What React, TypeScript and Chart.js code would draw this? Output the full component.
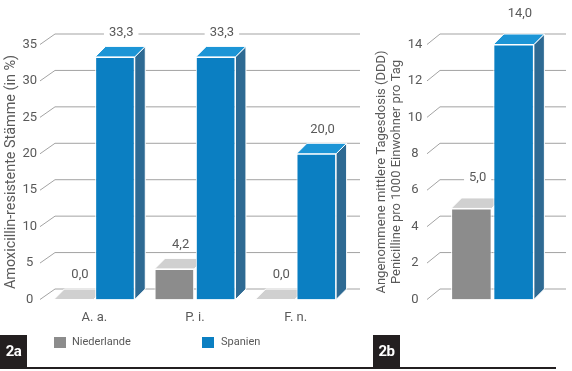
import React, { useEffect, useRef } from "react";
import { Chart, registerables } from "chart.js";

Chart.register(...registerables);

// ---- data ----
const seriesNames = ["Niederlande", "Spanien"];

const categoriesA = ["A. a.", "P. i.", "F. n."];
const niederlandeA = [0.0, 4.2, 0.0];
const spanienA = [33.3, 33.3, 20.0];
const yMaxA = 35;
const yStepA = 5;
const titleA = "Amoxicillin-resistente Stämme (in %)";

const categoriesB = [""];
const niederlandeB = [5.0];
const spanienB = [14.0];
const yMaxB = 14;
const yStepB = 2;
const titleB = [
  "Angenommene mittlere Tagesdosis (DDD)",
  "Penicilline pro 1000 Einwohner pro Tag",
];

const panelTags = ["2a", "2b"];

// ---- styles ----
const FONT = "Roboto, 'DejaVu Sans', sans-serif";
const TEXT = "#595959";
const GRID = "#a3a3a3";
const FRONT = ["#8c8c8c", "#0b7fc2"];
const TOP = ["#d0d0d0", "#1c95d6"];
const SIDE = ["#7a7a7a", "#2e6a93"];

const fmt = (v: number) => v.toFixed(1).replace(".", ",");

const bar3d = {
  id: "bar3d",
  beforeDatasetsDraw(chart: any, _args: any, opts: any) {
    const { ctx } = chart;
    const d = opts.depth;
    const ys = chart.scales.y;
    ctx.save();
    ctx.strokeStyle = GRID;
    ctx.lineWidth = 1;
    ys.ticks.forEach((t: any) => {
      const y = ys.getPixelForValue(t.value);
      ctx.beginPath();
      ctx.moveTo(opts.stubX, y);
      ctx.lineTo(opts.gridX, y - d);
      ctx.lineTo(opts.gridEnd, y - d);
      ctx.stroke();
    });
    chart.data.datasets.forEach((_ds: any, di: number) => {
      const meta = chart.getDatasetMeta(di);
      meta.data.forEach((el: any) => {
        const { x, y, base, width } = el.getProps(["x", "y", "base", "width"], true);
        const l = x - width / 2;
        const r = x + width / 2;
        ctx.strokeStyle = "#ffffff";
        ctx.lineWidth = 1;
        if (di === chart.data.datasets.length - 1 && base - y > 0.5) {
          ctx.fillStyle = SIDE[di];
          ctx.beginPath();
          ctx.moveTo(r, y);
          ctx.lineTo(r + d, y - d);
          ctx.lineTo(r + d, base - d);
          ctx.lineTo(r, base);
          ctx.closePath();
          ctx.fill();
          ctx.stroke();
        }
        ctx.fillStyle = TOP[di];
        ctx.beginPath();
        ctx.moveTo(l, y);
        ctx.lineTo(l + d, y - d);
        ctx.lineTo(r + d, y - d);
        ctx.lineTo(r, y);
        ctx.closePath();
        ctx.fill();
        ctx.stroke();
      });
    });
    ctx.restore();
  },
  afterDatasetsDraw(chart: any, _args: any, opts: any) {
    const { ctx } = chart;
    const d = opts.depth;
    ctx.save();
    ctx.font = `13px ${FONT}`;
    ctx.textAlign = "center";
    ctx.textBaseline = "middle";
    chart.data.datasets.forEach((ds: any, di: number) => {
      const meta = chart.getDatasetMeta(di);
      meta.data.forEach((el: any, i: number) => {
        const { x, y } = el.getProps(["x", "y"], true);
        const txt = fmt(ds.data[i]);
        const cx = x + d / 2 + 1;
        const cy = y - d - opts.labelOffset;
        const w = ctx.measureText(txt).width;
        ctx.fillStyle = "#ffffff";
        ctx.fillRect(cx - w / 2 - 5, cy - 6, w + 10, 12);
        ctx.fillStyle = TEXT;
        ctx.fillText(txt, cx, cy);
      });
    });
    ctx.restore();
  },
};

function makeConfig(
  labels: string[],
  a: number[],
  b: number[],
  yMax: number,
  yStep: number,
  title: string | string[],
  p: any
): any {
  return {
    type: "bar",
    data: {
      labels,
      datasets: [
        {
          label: seriesNames[0],
          data: a,
          backgroundColor: FRONT[0],
          borderColor: "#ffffff",
          borderWidth: 1,
        },
        {
          label: seriesNames[1],
          data: b,
          backgroundColor: FRONT[1],
          borderColor: "#ffffff",
          borderWidth: 1,
        },
      ],
    },
    options: {
      responsive: false,
      animation: false,
      events: [],
      layout: { padding: { top: 44.5, bottom: 31.5, left: 0, right: p.padRight } },
      datasets: { bar: { categoryPercentage: 0.82, barPercentage: 0.96 } },
      plugins: {
        legend: { display: false },
        tooltip: { enabled: false },
        bar3d: {
          depth: 10.5,
          stubX: p.stubX,
          gridX: p.gridX,
          gridEnd: p.gridEnd,
          labelOffset: p.labelOffset,
        },
      },
      scales: {
        x: {
          grid: { display: false, drawTicks: false },
          border: { display: false },
          ticks: { color: TEXT, font: { family: FONT, size: 13 }, padding: 10 },
          afterFit: (s: any) => {
            s.height = 40;
          },
        },
        y: {
          min: 0,
          max: yMax,
          ticks: {
            stepSize: yStep,
            color: TEXT,
            font: { family: FONT, size: 13 },
            padding: p.tickPad,
            crossAlign: "center",
          },
          grid: { display: false, drawTicks: false },
          border: { display: false },
          title: {
            display: true,
            text: title,
            color: TEXT,
            font: { family: FONT, size: p.titleSize, lineHeight: 1.1 },
            padding: { top: p.titlePad, bottom: 0 },
          },
          afterFit: (s: any) => {
            s.width = p.axisWidth;
          },
        },
      },
    },
    plugins: [bar3d],
  };
}

function ChartCanvas({ config, width, height, left }: any) {
  const ref = useRef<HTMLCanvasElement | null>(null);
  useEffect(() => {
    if (!ref.current) return;
    const chart = new Chart(ref.current, config);
    return () => chart.destroy();
  }, []);
  return (
    <canvas
      ref={ref}
      width={width}
      height={height}
      style={{ position: "absolute", left, top: 0, width, height }}
    />
  );
}

export default function App() {
  const cfgA = makeConfig(categoriesA, niederlandeA, spanienA, yMaxA, yStepA, titleA, {
    padRight: 14,
    axisWidth: 44,
    tickPad: 7,
    titlePad: 3.5,
    titleSize: 14.4,
    stubX: 40,
    gridX: 55,
    gridEnd: 360,
    labelOffset: 14,
  });
  const cfgB = makeConfig(categoriesB, niederlandeB, spanienB, yMaxB, yStepB, titleB, {
    padRight: 28,
    axisWidth: 81,
    tickPad: 18.7,
    titlePad: 15,
    titleSize: 13,
    stubX: 67,
    gridX: 80,
    gridEnd: 206,
    labelOffset: 20,
  });

  const legendText: React.CSSProperties = {
    position: "absolute",
    top: 334,
    fontFamily: FONT,
    fontSize: 11,
    color: TEXT,
    lineHeight: "16px",
  };
  const tag: React.CSSProperties = {
    position: "absolute",
    top: 335,
    width: 27,
    height: 33,
    background: "#231f20",
    color: "#ffffff",
    fontFamily: FONT,
    fontWeight: 700,
    fontSize: 15,
    lineHeight: "33px",
    textAlign: "center",
    letterSpacing: "-0.5px",
  };

  return (
    <div
      style={{
        position: "fixed",
        left: 0,
        top: 0,
        width: 572,
        height: 371,
        background: "#ffffff",
        overflow: "hidden",
      }}
    >
      <ChartCanvas config={cfgA} width={360} height={371} left={0} />
      <ChartCanvas config={cfgB} width={212} height={371} left={360} />
      <div style={{ position: "absolute", left: 54, top: 337, width: 12, height: 11, background: FRONT[0] }} />
      <div style={{ ...legendText, left: 72 }}>{seriesNames[0]}</div>
      <div style={{ position: "absolute", left: 202, top: 337, width: 12, height: 11, background: FRONT[1] }} />
      <div style={{ ...legendText, left: 221 }}>{seriesNames[1]}</div>
      <div style={{ ...tag, left: 0 }}>{panelTags[0]}</div>
      <div style={{ ...tag, left: 373 }}>{panelTags[1]}</div>
      <div style={{ position: "absolute", left: 0, top: 367, width: 556, height: 2, background: "#231f20" }} />
    </div>
  );
}
